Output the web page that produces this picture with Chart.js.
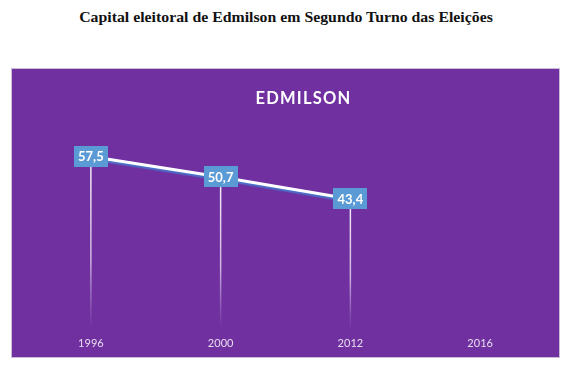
<!DOCTYPE html>
<html>
<head>
<meta charset="utf-8">
<script src="https://cdn.jsdelivr.net/npm/chart.js@4"></script>
<style>
  html, body { margin: 0; padding: 0; background: #ffffff; }
  body { width: 570px; height: 365px; position: relative; overflow: hidden; }
  #mainTitle {
    position: absolute; left: 0; top: 9px; width: 572px; text-align: center;
    font-family: "Liberation Serif", "DejaVu Serif", serif; font-weight: bold; font-size: 14.5px;
    color: #111; transform: scaleX(1.09); transform-origin: 286px 50%;
  }
  #panel {
    position: absolute; left: 11px; top: 68px; width: 547px; height: 288px;
    border: 1px solid #cbbcd9; background: #7030A0;
  }
  #panel canvas { position: absolute; left: 0; top: 0; }
  #subTitle {
    position: absolute; left: 0; width: 100%; top: 19px; text-align: center;
    padding-left: 36px; box-sizing: border-box;
    font-family: Lato, "Open Sans", sans-serif; font-weight: bold; font-size: 16.5px;
    letter-spacing: 1.2px; color: #ffffff;
  }
</style>
</head>
<body>
<div id="mainTitle">Capital eleitoral de Edmilson em Segundo Turno das Eleições</div>
<div id="panel">
  <canvas id="c" width="547" height="288"></canvas>
  <div id="subTitle">EDMILSON</div>
</div>
<script>
const chartTitle = "Capital eleitoral de Edmilson em Segundo Turno das Eleições";
const seriesName = "EDMILSON";
const categories = ["1996", "2000", "2012", "2016"];
const values = [57.5, 50.7, 43.4, null];
const yMin = 0;
const yMax = 70;

const fmt = v => v.toFixed(1).replace('.', ',');

const lineShadow = {
  id: 'lineShadow',
  beforeDatasetDraw(chart) {
    const ctx = chart.ctx;
    ctx.save();
    ctx.shadowColor = 'rgba(70,120,205,0.95)';
    ctx.shadowOffsetY = 2;
    ctx.shadowOffsetX = 0;
    ctx.shadowBlur = 1.5;
  },
  afterDatasetDraw(chart) {
    chart.ctx.restore();
  }
};

const dropLines = {
  id: 'dropLines',
  beforeDatasetsDraw(chart) {
    const ctx = chart.ctx;
    const meta = chart.getDatasetMeta(0);
    const bottom = chart.scales.y.getPixelForValue(yMin);
    ctx.save();
    meta.data.forEach((pt, i) => {
      if (values[i] == null) return;
      const g = ctx.createLinearGradient(0, pt.y, 0, bottom);
      g.addColorStop(0, 'rgba(255,255,255,0.95)');
      g.addColorStop(0.6, 'rgba(235,225,245,0.75)');
      g.addColorStop(1, 'rgba(200,180,225,0)');
      ctx.strokeStyle = g;
      ctx.lineWidth = 1.5;
      ctx.beginPath();
      ctx.moveTo(pt.x, pt.y);
      ctx.lineTo(pt.x, bottom);
      ctx.stroke();
    });
    ctx.restore();
  }
};

const valueLabels = {
  id: 'valueLabels',
  afterDatasetsDraw(chart) {
    const ctx = chart.ctx;
    const meta = chart.getDatasetMeta(0);
    ctx.save();
    ctx.font = 'bold 13px Lato, "Open Sans", sans-serif';
    ctx.textAlign = 'center';
    ctx.textBaseline = 'middle';
    meta.data.forEach((pt, i) => {
      if (values[i] == null) return;
      const w = 34, h = 21;
      ctx.fillStyle = '#5B9BD5';
      ctx.fillRect(Math.round(pt.x - w / 2), Math.round(pt.y - h / 2), w, h);
      ctx.fillStyle = '#ffffff';
      ctx.fillText(fmt(values[i]), pt.x, pt.y + 0.5);
    });
    ctx.restore();
  }
};

new Chart(document.getElementById('c'), {
  type: 'line',
  data: {
    labels: categories,
    datasets: [{
      label: seriesName,
      data: values,
      borderColor: '#ffffff',
      borderWidth: 3,
      pointRadius: 0,
      tension: 0,
      fill: false,
      spanGaps: false
    }]
  },
  options: {
    responsive: false,
    animation: false,
    layout: { padding: { left: 14, right: 14, top: 49.8, bottom: 0.8 } },
    plugins: {
      legend: { display: false },
      title: { display: false, text: chartTitle },
      tooltip: { enabled: false }
    },
    scales: {
      x: {
        offset: true,
        grid: { display: false, drawTicks: false, tickLength: 0 },
        border: { display: false },
        ticks: {
          color: '#e6dcef',
          font: { family: 'Lato, "Open Sans", sans-serif', size: 11 },
          padding: 6.6,
          maxRotation: 0
        }
      },
      y: {
        display: false,
        min: yMin,
        max: yMax
      }
    }
  },
  plugins: [dropLines, lineShadow, valueLabels]
});
</script>
</body>
</html>
